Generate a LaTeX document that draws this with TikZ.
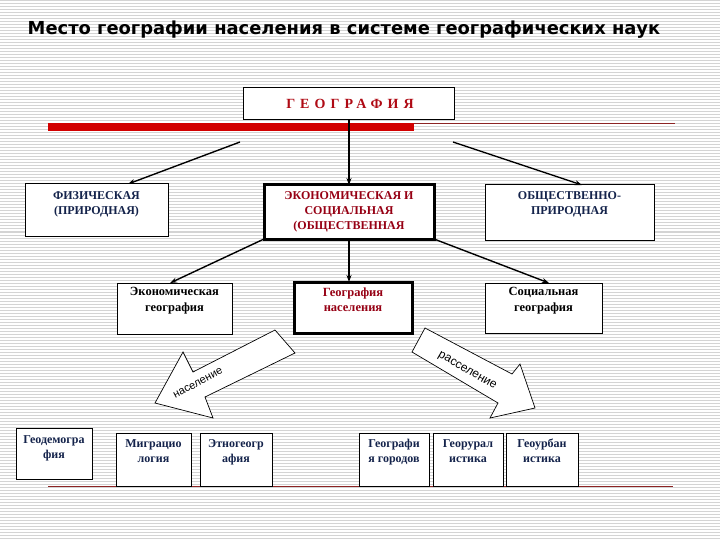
\documentclass[tikz,border=0pt]{standalone}
\usepackage{fontspec}
\setmainfont{Liberation Serif}
\newfontfamily\titlefont{DejaVu Sans}
\newfontfamily\arialfont{Liberation Sans}
\usetikzlibrary{arrows.meta}
\definecolor{navy}{RGB}{20,35,75}
\definecolor{dred}{RGB}{150,0,20}
\definecolor{geored}{RGB}{175,10,20}
\definecolor{barred}{RGB}{210,0,0}
\definecolor{thinred}{RGB}{140,35,35}
\definecolor{stripegray}{RGB}{212,212,212}
\begin{document}
\begin{tikzpicture}[x=1pt,y=-1pt,
  stripe/.style={draw=stripegray,line width=1pt},
  box/.style={draw=black,line width=1pt,fill=white,anchor=north west,inner sep=0pt,outer sep=0pt},
  thickbox/.style={box,line width=3pt},
  txt/.style={font=\fontsize{12}{15}\selectfont\bfseries,align=center,inner sep=0pt,anchor=north},
  txtb/.style={txt,font=\fontsize{12.5}{15.5}\selectfont\bfseries},
  arr/.style={draw=black,line width=1.4pt,-{Stealth[length=7pt,width=5pt]}},
  blockarrow/.style={draw=black,line width=0.7pt,fill=white,line join=miter},
  arrtxt/.style={font=\arialfont\fontsize{11}{12}\selectfont,inner sep=0pt}]
\useasboundingbox (0,0) rectangle (720,540);
\fill[white] (0,0) rectangle (720,540);
\foreach \y in {1,4,...,538} \draw[stripe] (0,\y) -- (720,\y);

% title
\node[font=\titlefont\fontsize{17.9}{19}\selectfont\bfseries,inner sep=0pt] (title) at (344,30) {Место географии населения в системе географических наук};

% top box
\node[box,minimum width=211pt,minimum height=32pt] (geo) at (243,88) {};
\node[inner sep=0pt,font=\fontsize{14}{15}\selectfont\bfseries\addfontfeature{LetterSpace=36},text=geored] (geo-t) at (350,104) {ГЕОГРАФИЯ};

% red bar and lines
\fill[barred] (48,123) rectangle (414,131);
\draw[thinred,line width=1pt] (414,123.5) -- (675,123.5);
\draw[thinred,line width=1pt] (48,486) -- (673,486);

% row 1
\node[box,minimum width=143pt,minimum height=52pt] (fiz) at (25,184) {};
\node[txt,text=navy] (fiz-t) at (96.5,191) {ФИЗИЧЕСКАЯ\\(ПРИРОДНАЯ)};
\node[thickbox,minimum width=170pt,minimum height=54pt] (eco) at (264,185) {};
\node[txt,text=dred] (eco-t) at (349,191) {ЭКОНОМИЧЕСКАЯ И\\СОЦИАЛЬНАЯ\\(ОБЩЕСТВЕННАЯ};
\node[box,minimum width=169pt,minimum height=55pt] (obs) at (485,185) {};
\node[txt,text=navy] (obs-t) at (569.5,191) {ОБЩЕСТВЕННО-\\ПРИРОДНАЯ};

% row 2
\node[box,minimum width=115pt,minimum height=51pt] (eko) at (117,283) {};
\node[txtb,text=black] (eko-t) at (174.5,287.5) {Экономическая\\география};
\node[thickbox,minimum width=118pt,minimum height=51pt] (nas) at (294,282) {};
\node[txtb,text=dred] (nas-t) at (353,287.5) {География\\населения};
\node[box,minimum width=117pt,minimum height=50pt] (soc) at (485,283) {};
\node[txtb,text=black] (soc-t) at (543.5,287.5) {Социальная\\география};

% connectors
\coordinate (gl) at (240,142);
\coordinate (fizin) at (128,184);
\coordinate (gr) at (453,142);
\coordinate (obsin) at (582,185);
\coordinate (ekoin) at (170,283);
\coordinate (socin) at (549,283);
\draw[arr] (gl) -- (fizin);
\draw[arr] (gr) -- (obsin);
\draw[arr] (geo.south -| eco.north) -- (eco.north);
\draw[arr] (eco.south west) -- (ekoin);
\draw[arr] (eco.south) -- (eco.south |- nas.north);
\draw[arr] (eco.south east) -- (socin);

% block arrows
\draw[blockarrow] (275,330) -- (193,372) -- (183,352) -- (155,403) -- (213,418) -- (205,397) -- (295,353) -- cycle;
\node[arrtxt,rotate=28] (nasel) at (198,383) {население};
\draw[blockarrow] (425,328) -- (512,374) -- (520,364) -- (535,408) -- (490,418) -- (498,403) -- (412,352) -- cycle;
\node[arrtxt,rotate=-30,font=\arialfont\fontsize{12}{13}\selectfont] (rassel) at (467,371) {расселение};

% row 3
\node[box,minimum width=76pt,minimum height=51pt] (b1) at (16,428) {};
\node[txt,text=navy] (b1-t) at (54,435) {Геодемогра\\фия};
\node[box,minimum width=75pt,minimum height=53pt] (b2) at (116,433) {};
\node[txt,text=navy] (b2-t) at (153.5,439) {Миграцио\\логия};
\node[box,minimum width=72pt,minimum height=53pt] (b3) at (200,433) {};
\node[txt,text=navy] (b3-t) at (236,439) {Этногеогр\\афия};
\node[box,minimum width=70pt,minimum height=53pt] (b4) at (359,433) {};
\node[txt,text=navy] (b4-t) at (394,439) {Географи\\я городов};
\node[box,minimum width=70pt,minimum height=53pt] (b5) at (433,433) {};
\node[txt,text=navy] (b5-t) at (468,439) {Георурал\\истика};
\node[box,minimum width=72pt,minimum height=53pt] (b6) at (506,433) {};
\node[txt,text=navy] (b6-t) at (542,439) {Геоурбан\\истика};
\end{tikzpicture}
\end{document}
